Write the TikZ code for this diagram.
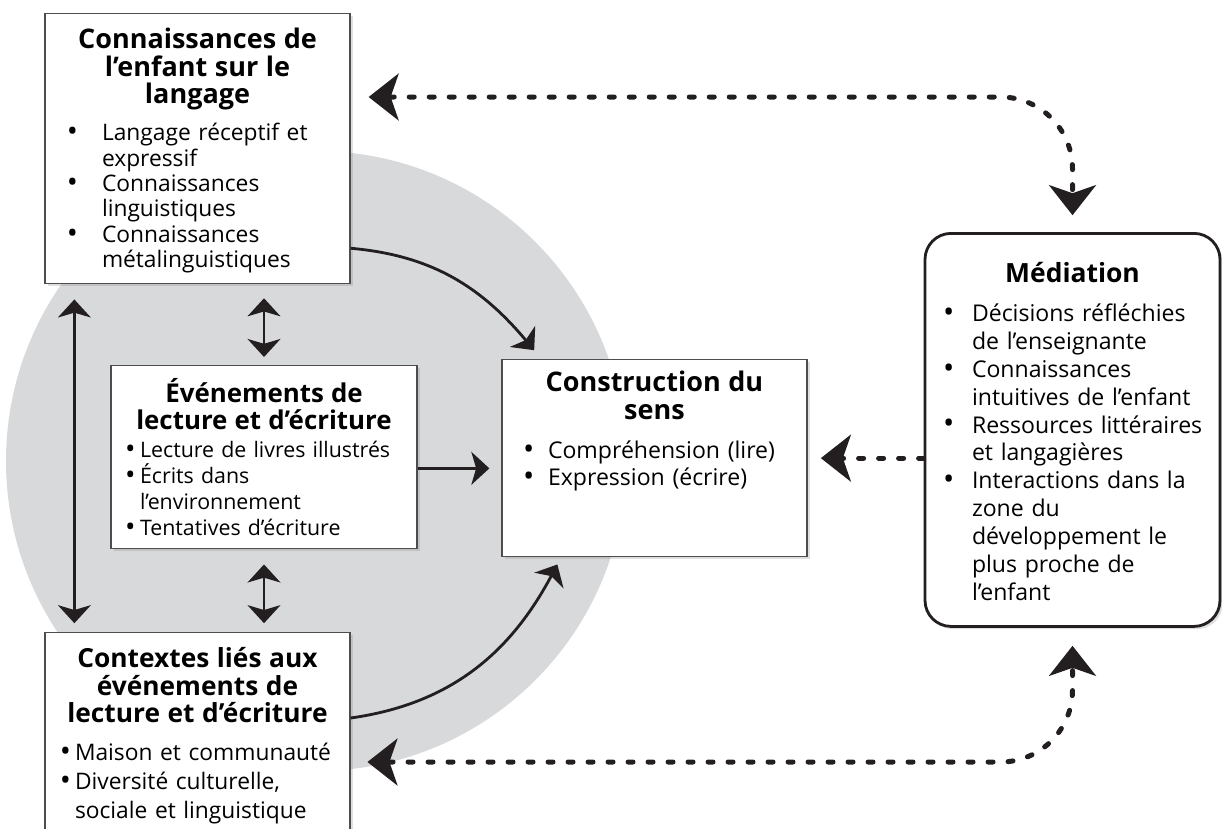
\documentclass[tikz,border=0pt]{standalone}
\usepackage{fontspec}
\usepackage{graphicx}
\setmainfont{Open Sans}
\usetikzlibrary{arrows.meta,shadows}

\definecolor{grisfond}{RGB}{216,217,219}
\definecolor{trait}{RGB}{35,31,32}

% bullets: gap before the bullet, width up to the text
\newlength{\pucegauche}
\newlength{\pucelarg}
\newcommand{\puce}[1]{\par\hangindent=\pucelarg\hangafter=1\noindent
  \hbox to\pucelarg{\hskip\pucegauche\raisebox{-0.04em}{\scalebox{1.3}{\textbullet}}\hss}#1}
\newcommand{\titre}[2][19.2pt]{{\centering\fontsize{#1}{19.6pt}\selectfont\bfseries #2\par}}

% grey disc with a soft edge
\pgfdeclareradialshading{halo}{\pgfpoint{0cm}{0cm}}{%
  color(0bp)=(grisfond); color(44bp)=(grisfond); color(50bp)=(white)}

\begin{document}
\begin{tikzpicture}[
    box/.style={draw=trait!80, line width=0.9pt, fill=white, anchor=north,
      inner xsep=0.15cm, inner ysep=0.3cm, text height=0.58cm, text width=7.325cm,
      drop shadow={shadow xshift=0.07cm, shadow yshift=-0.07cm, opacity=0.25}},
    medbox/.style={box, draw=trait, line width=2pt, rounded corners=0.65cm,
      text width=7.075cm, text height=0.93cm},
    arr/.style={line width=2pt, draw=trait, >={Stealth[length=0.45cm, width=0.82cm, inset=0.12cm]}},
    dotarr/.style={line width=0.125cm, draw=trait, line cap=round, dash pattern=on 0.125cm off 0.375cm,
      >={Stealth[length=0.75cm, width=1.17cm, inset=0.2cm]}},
]
    \useasboundingbox (0,0) rectangle (30.55,-20.7);
    \clip (0,0) rectangle (30.55,-20.7);

    % background disc
    \shade[shading=halo] (7.9,-11.525) circle (7.75cm);

    % left column
    \node[box, text depth=5.57cm, font=\fontsize{16.2pt}{18.1pt}\selectfont,
      execute at begin node={\setlength{\pucegauche}{0.4cm}\setlength{\pucelarg}{1.275cm}}]
      (lang) at (4.9375,-0.325) {\titre{Connaissances de\\ l’enfant sur le\\ langage}\vspace{8pt}\raggedright
      \puce{Langage réceptif et\newline expressif}
      \puce{Connaissances\newline linguistiques}
      \puce{Connaissances\newline métalinguistiques}\par};

    \node[box, text width=7.35cm, text height=0.62cm, text depth=3.355cm, font=\fontsize{15.2pt}{18.5pt}\selectfont,
      execute at begin node={\setlength{\pucegauche}{0.2cm}\setlength{\pucelarg}{0.575cm}}]
      (events) at (6.6,-9.125) {\titre[18.4pt]{Événements de\\ lecture et d’écriture}\vspace{1pt}\raggedright
      \puce{Lecture de livres illustrés}
      \puce{Écrits dans\newline l’environnement}
      \puce{Tentatives d’écriture}\par};

    \node[box, text depth=4.27cm, font=\fontsize{16.2pt}{20.6pt}\selectfont,
      execute at begin node={\setlength{\pucegauche}{0.22cm}\setlength{\pucelarg}{0.6cm}}]
      (contexts) at (4.9375,-15.8) {\titre[18.7pt]{Contextes liés aux\\ événements de\\ lecture et d’écriture}\vspace{6pt}\raggedright
      \puce{Maison et communauté}
      \puce{Diversité culturelle,\newline sociale et linguistique}\par};

    % centre and right
    \node[box, text height=0.5cm, text depth=3.825cm, font=\fontsize{16.4pt}{19.2pt}\selectfont,
      execute at begin node={\setlength{\pucegauche}{0.38cm}\setlength{\pucelarg}{1cm}}]
      (sens) at (16.3625,-8.975) {\titre{Construction du\\ sens}\vspace{9pt}\raggedright
      \puce{Compréhension (lire)}
      \puce{Expression (écrire)}\par};

    \node[medbox, text depth=8.295cm, font=\fontsize{16.4pt}{19.8pt}\selectfont,
      execute at begin node={\setlength{\pucegauche}{0.3cm}\setlength{\pucelarg}{1.025cm}}]
      (media) at (26.8125,-5.8) {\titre[18.8pt]{Médiation}\vspace{8pt}\raggedright
      \puce{Décisions réfléchies\newline de l’enseignante}
      \puce{Connaissances\newline intuitives de l’enfant}
      \puce{Ressources littéraires\newline et langagières}
      \puce{Interactions dans la\newline zone du\newline développement le\newline plus proche de\newline l’enfant}\par};

    % solid arrows
    \draw[arr, <->, shorten <=0.38cm, shorten >=0.22cm] ([xshift=0.75cm]lang.south west) -- ([xshift=0.75cm]contexts.north west);
    \draw[arr, <->, shorten <=0.35cm, shorten >=0.2cm] (events.north |- lang.south) -- (events.north);
    \draw[arr, <->, shorten <=0.38cm, shorten >=0.22cm] (events.south) -- (events.south |- contexts.north);
    \draw[arr, ->, shorten >=0.3cm] ([yshift=-0.28cm]events.east) -- ([yshift=-0.28cm]events.east -| sens.west);
    \draw[arr, ->] ([yshift=0.9cm]lang.south east) to[out=-5, in=130] ([xshift=0.82cm, yshift=0.22cm]sens.north west);
    \draw[arr, ->] ([yshift=-2.15cm]contexts.north east) to[out=8, in=-118] ([xshift=1.4cm, yshift=-0.18cm]sens.south west);

    % dotted arrows to and from the mediation box
    \coordinate (ltop) at ([yshift=-2.1cm]lang.north east);
    \coordinate (cbot) at ([yshift=-3.25cm]contexts.north east);
    \draw[dotarr, <->, rounded corners=1.8cm, shorten <=0.45cm, shorten >=0.42cm] (ltop) -| (media.north);
    \draw[dotarr, <->, rounded corners=1.8cm, shorten <=0.42cm, shorten >=0.45cm] (cbot) -| (media.south);
    \draw[dotarr, ->, shorten >=0.33cm] (media.west |- sens.east) -- (sens.east);
\end{tikzpicture}
\end{document}
